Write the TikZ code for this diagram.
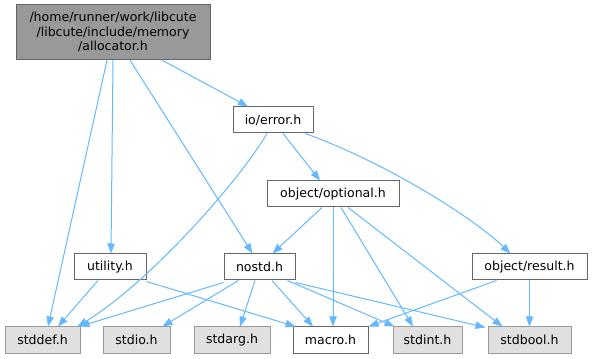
\documentclass[tikz,border=0pt]{standalone}
\usepackage{fontspec}
\setmainfont{DejaVu Sans}
\usetikzlibrary{arrows.meta,calc}
\definecolor{edgeblue}{HTML}{63B8FF}
\definecolor{rootfill}{HTML}{999999}
\definecolor{rootdraw}{HTML}{666666}
\definecolor{sysfill}{HTML}{E0E0E0}
\definecolor{sysdraw}{HTML}{999999}
\tikzset{
  filebox/.style={draw=rootdraw, fill=white, line width=0.75pt, minimum height=19.5pt, inner sep=0pt,
    font=\fontsize{9.4pt}{11pt}\selectfont},
  sysbox/.style={filebox, draw=sysdraw, fill=sysfill},
  rootbox/.style={filebox, fill=rootfill, align=center},
  dep/.style={draw=edgeblue, line width=0.75pt, -{Triangle[length=7.5pt,width=5.5pt]}}
}
\begin{document}
\begin{tikzpicture}[x=0.75pt,y=-0.75pt]
\useasboundingbox (0,0) rectangle (592,359);
% nodes
\node[rootbox, minimum width=145.5pt, minimum height=41.5pt] (alloc) at (113,32)
  {/home/runner/work/libcute\\/libcute/include/memory\\/allocator.h};
\node[filebox, minimum width=60pt] (error) at (273,120) {io/error.h};
\node[filebox, minimum width=99pt] (optional) at (333,194) {object/optional.h};
\node[filebox, minimum width=54pt] (utility) at (110,267) {utility.h};
\node[filebox, minimum width=53.25pt] (nostd) at (259.5,267) {nostd.h};
\node[filebox, minimum width=86.25pt] (result) at (529.5,267) {object/result.h};
\node[sysbox, minimum width=56.25pt] (stddef) at (42.5,340) {stddef.h};
\node[sysbox, minimum width=50.25pt] (stdio) at (136.5,340) {stdio.h};
\node[sysbox, minimum width=57pt] (stdarg) at (232,340) {stdarg.h};
\node[filebox, minimum width=56.25pt] (macro) at (330.5,340) {macro.h};
\node[sysbox, minimum width=51.75pt] (stdint) at (427.5,340) {stdint.h};
\node[sysbox, minimum width=62.25pt] (stdbool) at (529.5,340) {stdbool.h};
% edges from allocator
\draw[dep] ($(alloc.south)+(-6,0)$) -- ($(stddef.north)+(5.5,0)$);
\draw[dep] ($(alloc.south)+(0,0)$) -- ($(utility.north)+(1,0)$);
\draw[dep] ($(alloc.south)+(17,0)$) -- ($(nostd.north)+(-7,0)$);
\draw[dep] ($(alloc.south)+(49,0)$) -- ($(error.north)+(-25,0)$);
% edges from io/error.h
\draw[dep] ($(error.south)+(-6,0)$) .. controls (240,180) and (150,282) .. ($(stddef.north east)+(-3,0)$);
\draw[dep] ($(error.south)+(10,0)$) -- ($(optional.north)+(-13,0)$);
\draw[dep] ($(error.south)+(32,0)$) .. controls (380,160) and (470,215) .. ($(result.north)+(-19,0)$);
% edges from object/optional.h
\draw[dep] ($(optional.south)+(-11,0)$) -- ($(nostd.north)+(13,0)$);
\draw[dep] ($(optional.south)+(0,0)$) -- ($(macro.north)+(2.5,0)$);
\draw[dep] ($(optional.south)+(8,0)$) -- ($(stdint.north)+(-14.5,0)$);
\draw[dep] ($(optional.south)+(15,0)$) -- ($(stdbool.north)+(-27,0)$);
% edges from utility.h
\draw[dep] ($(utility.south)+(-12,0)$) -- ($(stddef.north)+(15.5,0)$);
\draw[dep] ($(utility.south east)+(0,1)$) -- ($(macro.north west)+(3,0)$);
% edges from nostd.h
\draw[dep] ($(nostd.south west)+(0,2)$) -- ($(stddef.north east)+(-1,0)$);
\draw[dep] ($(nostd.south)+(-21,0)$) -- ($(stdio.north)+(26,0)$);
\draw[dep] ($(nostd.south)+(-4.5,0)$) -- ($(stdarg.north)+(8,0)$);
\draw[dep] ($(nostd.south)+(12.5,0)$) -- ($(macro.north)+(-17.5,0)$);
\draw[dep] ($(nostd.south)+(28,0)$) -- ($(stdint.north west)+(2,0)$);
\draw[dep] ($(nostd.south east)+(0,2)$) -- ($(stdbool.north west)+(-2,1)$);
% edges from object/result.h
\draw[dep] ($(result.south)+(-33,0)$) -- ($(macro.north east)+(0,0)$);
\draw[dep] (result.south) -- (stdbool.north);
\end{tikzpicture}
\end{document}
